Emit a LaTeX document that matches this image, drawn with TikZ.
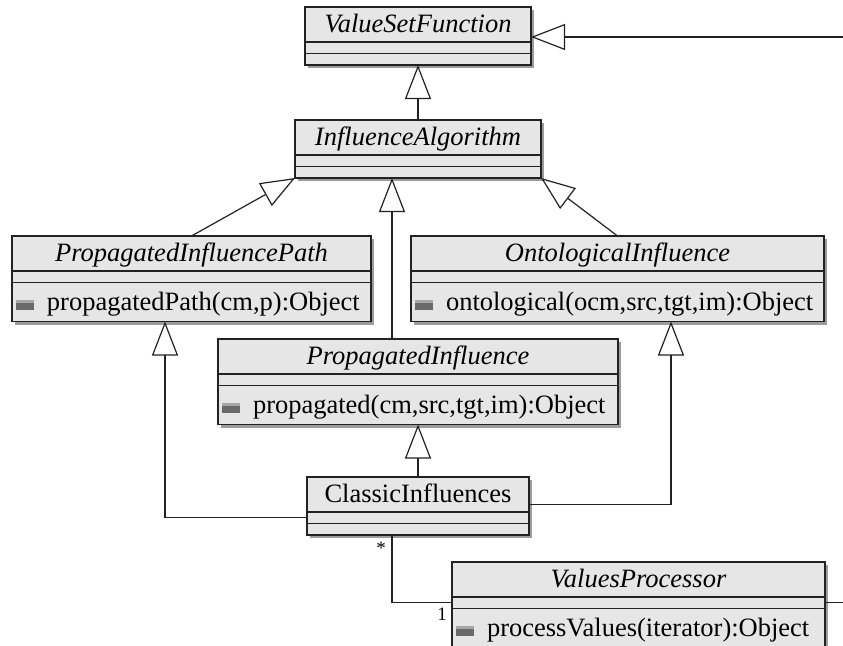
\documentclass[tikz,border=0pt]{standalone}
\usepackage{fontspec}
\setmainfont{Liberation Serif}
\usetikzlibrary{positioning,arrows.meta,shadows}
\definecolor{boxFill}{HTML}{E6E6E6}
\definecolor{shadowGray}{HTML}{9C9C9C}
\definecolor{lineGray}{HTML}{222222}
\definecolor{iconDark}{HTML}{6A6A6A}
\definecolor{iconLight}{HTML}{A6A6A6}
\newcommand{\opicon}{\rlap{\textcolor{iconLight}{\rule[7pt]{18pt}{3pt}}}\textcolor{iconDark}{\rule{18pt}{7pt}}\hspace{13pt}}

\begin{document}
\begin{tikzpicture}[x=1pt, y=-1pt,
    classPart/.style={draw=lineGray, fill=boxFill, line width=1.2pt, inner sep=0pt, outer sep=0pt,
        minimum height=11.5pt, drop shadow={shadow xshift=3pt, shadow yshift=-3pt, fill=shadowGray, opacity=1}},
    classHead/.style={classPart, anchor=north, minimum height=35pt, text height=19pt, text depth=3pt,
        font=\fontsize{26.5}{30}\selectfont},
    classOps/.style={classPart, minimum height=39pt, inner xsep=4pt, text height=19pt, text depth=3pt,
        align=left, font=\fontsize{26.5}{30}\selectfont},
    gen/.style={draw=lineGray, line width=1.2pt, -{Triangle[open, length=34pt, width=26pt, fill=white]}},
    assoc/.style={draw=lineGray, line width=1.2pt},
    mult/.style={font=\fontsize{19}{21}\selectfont, inner sep=0pt}]
    \path[use as bounding box, fill=white] (0,0) rectangle (843,645);

    % ValueSetFunction
    \node[classHead, minimum width=226pt] (valueSet) at (418,7) {\textit{ValueSetFunction}};
    \node[classPart, minimum width=226pt, below=0pt of valueSet] (valueSetAttr) {};
    \node[classPart, minimum width=226pt, below=0pt of valueSetAttr] (valueSetOps) {};

    % InfluenceAlgorithm
    \node[classHead, minimum width=246pt] (infAlg) at (418,120) {\textit{InfluenceAlgorithm}};
    \node[classPart, minimum width=246pt, below=0pt of infAlg] (infAlgAttr) {};
    \node[classPart, minimum width=246pt, below=0pt of infAlgAttr] (infAlgOps) {};

    % PropagatedInfluencePath
    \node[classHead, minimum width=359pt] (propPath) at (191.5,236) {\textit{PropagatedInfluencePath}};
    \node[classPart, minimum width=359pt, below=0pt of propPath] (propPathAttr) {};
    \node[classOps, text width=351pt, below=0pt of propPathAttr] (propPathOps) {\opicon propagatedPath(cm,p):Object};

    % OntologicalInfluence
    \node[classHead, minimum width=413pt] (ontoInf) at (617.5,236) {\textit{OntologicalInfluence}};
    \node[classPart, minimum width=413pt, below=0pt of ontoInf] (ontoInfAttr) {};
    \node[classOps, text width=405pt, below=0pt of ontoInfAttr] (ontoInfOps) {\opicon ontological(ocm,src,tgt,im):Object};

    % PropagatedInfluence
    \node[classHead, minimum width=400pt] (propInf) at (418,339) {\textit{PropagatedInfluence}};
    \node[classPart, minimum width=400pt, below=0pt of propInf] (propInfAttr) {};
    \node[classOps, text width=392pt, below=0pt of propInfAttr] (propInfOps) {\opicon propagated(cm,src,tgt,im):Object};

    % ClassicInfluences
    \node[classHead, minimum width=222pt] (classic) at (418,477) {ClassicInfluences};
    \node[classPart, minimum width=222pt, below=0pt of classic] (classicAttr) {};
    \node[classPart, minimum width=222pt, below=0pt of classicAttr] (classicOps) {};

    % ValuesProcessor
    \node[classHead, minimum width=373pt] (proc) at (638.5,562) {\textit{ValuesProcessor}};
    \node[classPart, minimum width=373pt, below=0pt of proc] (procAttr) {};
    \node[classOps, text width=365pt, below=0pt of procAttr] (procOps) {\opicon processValues(iterator):Object};

    % generalizations
    \coordinate (extIn) at (843,37);
    \draw[gen] (extIn) -- (extIn -| valueSet.east);
    \draw[gen] (infAlg.north) -- (valueSetOps.south);
    \draw[gen] (propPath.north) -- (infAlgOps.south west);
    \draw[gen] ([xshift=-26pt]propInf.north) -- ([xshift=-26pt]infAlgOps.south);
    \draw[gen] (ontoInf.north) -- (infAlgOps.south east);
    \draw[gen] (classic.north) -- (propInfOps.south);
    \draw[gen] (classicAttr.west) -| ([xshift=-26.5pt]propPathOps.south);
    \draw[gen] ([yshift=-10pt]classic.east) -| ([xshift=53.5pt]ontoInfOps.south);

    % association
    \draw[assoc] ([xshift=-26pt]classicOps.south) |- (procAttr.west);
    \node[mult] (manyMark) at (381,548) {*};
    \node[mult] (oneMark) at (442,614) {1};
    \coordinate (extOut) at (843,603);
    \draw[assoc] (procAttr.east) -- (procAttr.east -| extOut);
\end{tikzpicture}
\end{document}
